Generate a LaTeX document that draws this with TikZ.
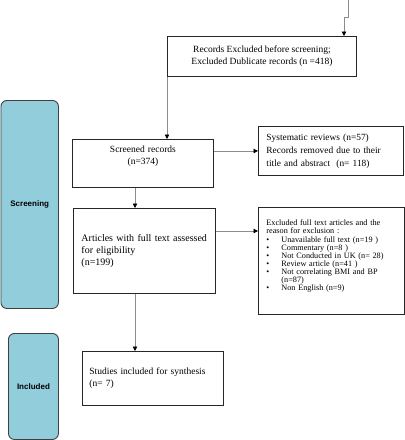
\documentclass[tikz,border=0pt]{standalone}
\usepackage{fontspec}
\setmainfont{Liberation Serif}
\setsansfont{Liberation Sans}
\usetikzlibrary{arrows.meta}
\definecolor{phaseblue}{RGB}{146,205,220}

\begin{document}
\begin{tikzpicture}[x=1pt,y=-1pt]
  \tikzstyle{box}=[draw=black!85,line width=0.9pt,fill=white,inner xsep=8pt,inner ysep=3pt,font=\fontsize{9.5}{12}\selectfont]
  \tikzstyle{phase}=[draw=black!75,line width=0.9pt,fill=phaseblue,rounded corners=6pt,font=\sffamily\bfseries\fontsize{8}{10}\selectfont]
  \tikzstyle{conn}=[draw=black!45,line width=0.8pt,-{Triangle[length=4.5pt,width=4.5pt,color=black]}]
  \useasboundingbox (0,0) rectangle (405,440);
  % phases
  \node[phase,anchor=north west,minimum width=57.5,minimum height=208] (screening) at (0.5,100) {Screening};
  \node[phase,anchor=north west,minimum width=50,minimum height=106] (included) at (8,333) {Included};
  % boxes
  \node[box,anchor=north west,minimum width=189,minimum height=40,align=center] (dup) at (167,36)
    {Records Excluded before screening;\\Excluded Dublicate records (n =418)};
  \node[box,anchor=north west,text width=125,minimum height=48,align=center,text depth=29] (scr) at (72,139)
    {Screened records\\(n=374)};
  \node[box,anchor=north west,text width=129,minimum height=49,align=left,font=\fontsize{9.4}{13}\selectfont] (sys) at (258,126)
    {Systematic reviews (n=57)\\Records removed due to their\\title and abstract\ \ (n= 118)};
  \node[box,anchor=north west,text width=126,minimum height=85,align=left,font=\fontsize{10}{12}\selectfont] (art) at (73,208)
    {Articles with full text assessed\\for eligibility\\(n=199)};
  \node[box,anchor=north west,text width=130,minimum height=107,align=left,text depth=76,font=\fontsize{8.2}{8.1}\selectfont] (exc) at (258,207)
    {Excluded full text articles and the\\reason for exclusion :\\
     \makebox[15pt][l]{\textbullet}Unavailable full text (n=19 )\\
     \makebox[15pt][l]{\textbullet}Commentary (n=8 )\\
     \makebox[15pt][l]{\textbullet}Not Conducted in UK (n= 28)\\
     \makebox[15pt][l]{\textbullet}Review article (n=41 )\\
     \makebox[15pt][l]{\textbullet}Not correlating BMI and BP\\
     \hspace*{15pt}(n=87)\\
     \makebox[15pt][l]{\textbullet}Non English (n=9)};
  \node[box,anchor=north west,text width=127,inner xsep=7pt,minimum height=54,align=left] (stu) at (82,351)
    {Studies included for synthesis\\(n= 7)};
  % connectors
  \coordinate (src) at (348,0);
  \coordinate (jog) at (344,17);
  \coordinate (spine) at (135,0);
  \coordinate (artout) at ([yshift=-23pt]art.north east);
  \draw[conn] (src) |- (jog) -- (jog |- dup.north);
  \draw[conn] (dup.south west) -- (dup.south west |- scr.north);
  \draw[conn] (scr.east |- sys.west) -- (sys.west);
  \draw[conn] (spine |- scr.south) -- (spine |- art.north);
  \draw[conn] (artout) -- (artout -| exc.west);
  \draw[conn] (spine |- art.south) -- (spine |- stu.north);
\end{tikzpicture}
\end{document}
